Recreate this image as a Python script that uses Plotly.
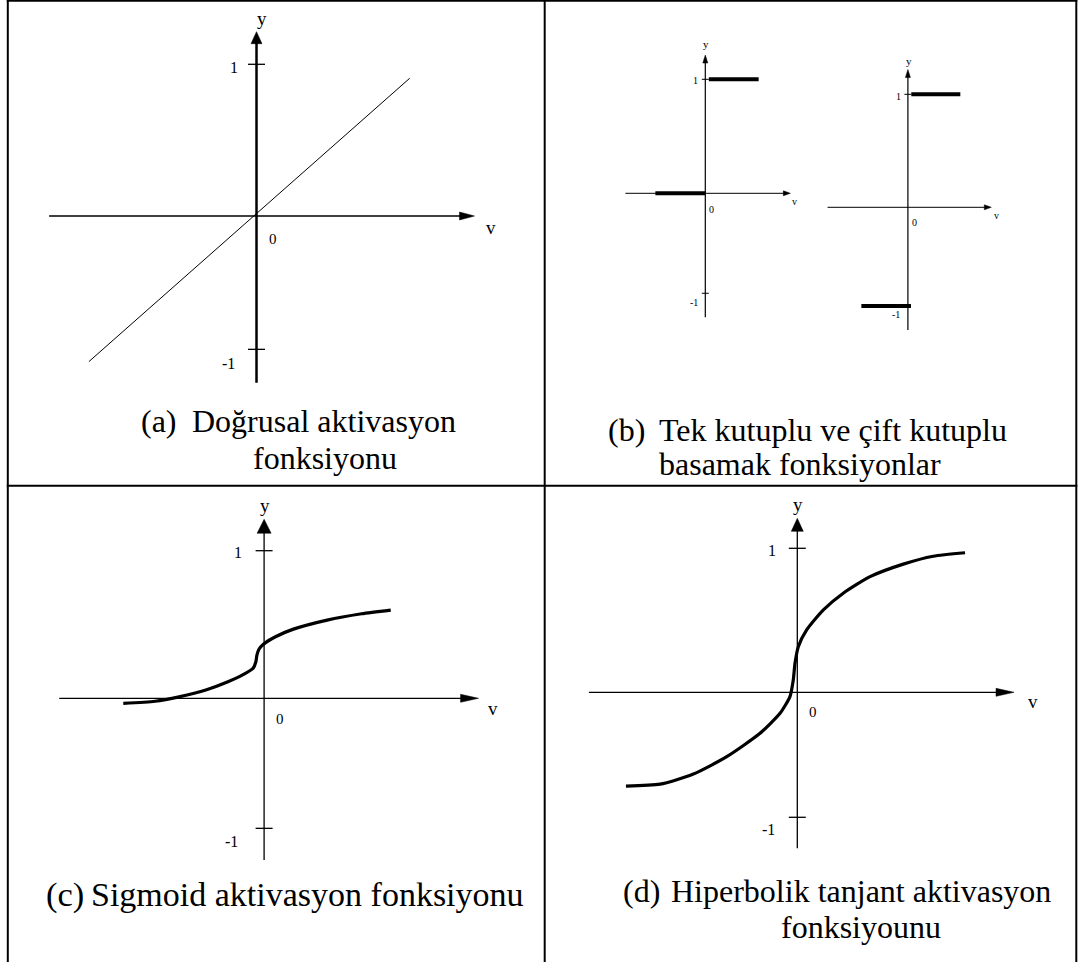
import plotly.graph_objects as go

W, H = 1078, 962

# ---------------- data (each panel in its own units) ----------------
# (a) linear activation
LINEAR_V = [-1.105, 1.01]
LINEAR_Y = [-0.96, 0.908]

# (b) unipolar / bipolar step functions
UNIPOLAR_LOW_V = [-0.438, 0.0]
UNIPOLAR_LOW_Y = [0.0, 0.0]
UNIPOLAR_HIGH_V = [0.031, 0.468]
UNIPOLAR_HIGH_Y = [1.0, 1.0]
BIPOLAR_LOW_V = [-0.412, 0.027]
BIPOLAR_LOW_Y = [-0.873, -0.873]
BIPOLAR_HIGH_V = [0.03, 0.464]
BIPOLAR_HIGH_Y = [1.0, 1.0]

# (c) sigmoid
SIGMOID_V = [-0.954, -0.739, -0.576, -0.390, -0.249, -0.133, -0.0745, -0.0556, -0.0488,
             -0.0346, -0.0047, 0.0772, 0.194, 0.427, 0.661, 0.858]
SIGMOID_Y = [-0.034, -0.020, 0.010, 0.058, 0.110, 0.165, 0.203, 0.248, 0.293,
             0.332, 0.366, 0.417, 0.467, 0.530, 0.573, 0.598]

# (d) hyperbolic tangent
TANH_V = [-1.19, -0.953, -0.722, -0.49, -0.259, -0.12, -0.051, -0.028, -0.016,
          0.007, 0.065, 0.181, 0.319, 0.505, 0.736, 0.944, 1.165]
TANH_Y = [-0.651, -0.638, -0.568, -0.447, -0.285, -0.146, -0.03, 0.085, 0.201,
          0.317, 0.433, 0.572, 0.688, 0.803, 0.890, 0.945, 0.969]

# axis extents [min, max] and tick values of every panel
A_V_EXT, A_Y_EXT, A_TICKS = [-1.367, 1.437], [-1.099, 1.215], [1.0, -0.879]
B1_V_EXT, B1_Y_EXT, B1_TICKS = [-0.701, 0.746], [-1.088, 1.213], [1.0, -0.877]
B2_V_EXT, B2_Y_EXT, B2_TICKS = [-0.711, 0.738], [-1.086, 1.219], [1.0]
B2_LABEL_VALUES = [1.0, -0.873]
C_V_EXT, C_Y_EXT, C_TICKS = [-1.388, 1.453], [-1.096, 1.213], [1.0, -0.881]
D_V_EXT, D_Y_EXT, D_TICKS = [-1.447, 1.505], [-1.083, 1.208], [1.0, -0.868]
TICK_LABELS = ["1", "-1"]

CAPTIONS = {
    "a": ["(a)", "Doğrusal aktivasyon", "fonksiyonu"],
    "b": ["(b)", "Tek kutuplu ve çift kutuplu", "basamak fonksiyonlar"],
    "c": ["(c)", "Sigmoid aktivasyon fonksiyonu", ""],
    "d": ["(d)", "Hiperbolik tanjant aktivasyon", "fonksiyounu"],
}

# ---------------- figure ----------------
FONT = "Liberation Serif, Times New Roman, serif"
fig = go.Figure()
shapes, annotations = [], []


def refs(i):
    return ("x" if i == 1 else f"x{i}", "y" if i == 1 else f"y{i}")


def setup_axes(i, ox, oy, u):
    xr, yr = refs(i)
    xk = "xaxis" if i == 1 else f"xaxis{i}"
    yk = "yaxis" if i == 1 else f"yaxis{i}"
    fig.update_layout({
        xk: dict(domain=[0, 1], range=[-ox / u, (W - ox) / u], visible=False,
                 anchor=yr, fixedrange=True),
        yk: dict(domain=[0, 1], range=[(oy - H) / u, oy / u], visible=False,
                 anchor=xr, fixedrange=True),
    })


def draw_axes(i, u, vext, yext, xw, yw, xarrow, yarrow, ticks, tick_half, tw):
    xr, yr = refs(i)
    lx, hx = xarrow
    ly, wy = yarrow
    shapes.append(dict(type="line", xref=xr, yref=yr, x0=vext[0], y0=0,
                       x1=vext[1] - 0.7 * lx / u, y1=0, line=dict(color="black", width=xw)))
    shapes.append(dict(type="line", xref=xr, yref=yr, x0=0, y0=yext[0],
                       x1=0, y1=yext[1] - 0.7 * ly / u, line=dict(color="black", width=yw)))
    bx = vext[1] - lx / u
    shapes.append(dict(type="path", xref=xr, yref=yr,
                       path=f"M{vext[1]},0 L{bx},{hx / u} L{bx},{-hx / u} Z",
                       fillcolor="black", line=dict(color="black", width=0.5)))
    by = yext[1] - ly / u
    shapes.append(dict(type="path", xref=xr, yref=yr,
                       path=f"M0,{yext[1]} L{wy / u},{by} L{-wy / u},{by} Z",
                       fillcolor="black", line=dict(color="black", width=0.5)))
    for t in ticks:
        shapes.append(dict(type="line", xref=xr, yref=yr, x0=-tick_half / u, y0=t,
                           x1=tick_half / u, y1=t, line=dict(color="black", width=tw)))


def label(i, text, x, y, dx, dy, size):
    xr, yr = refs(i)
    annotations.append(dict(text=text, x=x, y=y, xref=xr, yref=yr, xshift=dx, yshift=-dy,
                            showarrow=False, xanchor="center", yanchor="middle",
                            font=dict(family=FONT, size=size, color="black")))


def line_trace(i, xs, ys, width, shape="linear"):
    xr, yr = refs(i)
    fig.add_trace(go.Scatter(x=xs, y=ys, xaxis=xr, yaxis=yr, mode="lines",
                             line=dict(color="black", width=width, shape=shape, smoothing=0.6),
                             hoverinfo="skip", showlegend=False))


def caption(px, py, text, size=32):
    annotations.append(dict(text=text, x=px / W, y=1 - py / H, xref="paper", yref="paper",
                            showarrow=False, xanchor="left", yanchor="middle",
                            font=dict(family=FONT, size=size, color="black")))


# panel (a)
setup_axes(1, 256.5, 216.0, 151.7)
draw_axes(1, 151.7, A_V_EXT, A_Y_EXT, 1.5, 2.5, (15, 4), (12, 5.5), A_TICKS, 8.5, 1.3)
line_trace(1, LINEAR_V, LINEAR_Y, 1.0)
label(1, "y", 0, A_Y_EXT[1], 5, -13, 19)
label(1, TICK_LABELS[0], 0, A_TICKS[0], -23, 3, 16)
label(1, TICK_LABELS[1], 0, A_TICKS[1], -28, 14, 16)
label(1, "0", 0, 0, 16.5, 23, 15)
label(1, "v", A_V_EXT[1], 0, 17, 11, 19)

# panel (b) left: unipolar
setup_axes(2, 705.3, 193.3, 114.0)
draw_axes(2, 114.0, B1_V_EXT, B1_Y_EXT, 1.0, 1.2, (7, 2.5), (8, 2.5), B1_TICKS, 3.5, 1.0)
line_trace(2, UNIPOLAR_LOW_V, UNIPOLAR_LOW_Y, 4.0)
line_trace(2, UNIPOLAR_HIGH_V, UNIPOLAR_HIGH_Y, 4.0)
label(2, "y", 0, B1_Y_EXT[1], 1, -11, 11)
label(2, TICK_LABELS[0], 0, B1_TICKS[0], -9.5, 1.5, 10)
label(2, TICK_LABELS[1], 0, B1_TICKS[1], -11, 9, 10)
label(2, "0", 0, 0, 6, 16.5, 10)
label(2, "v", B1_V_EXT[1], 0, 4.5, 8, 10)

# panel (b) right: bipolar
setup_axes(3, 907.9, 207.3, 113.0)
draw_axes(3, 113.0, B2_V_EXT, B2_Y_EXT, 1.0, 1.2, (7, 2.5), (8, 2.5), B2_TICKS, 3.5, 1.0)
line_trace(3, BIPOLAR_LOW_V, BIPOLAR_LOW_Y, 4.0)
line_trace(3, BIPOLAR_HIGH_V, BIPOLAR_HIGH_Y, 4.0)
label(3, "y", 0, B2_Y_EXT[1], 1.5, -9, 11)
label(3, TICK_LABELS[0], 0, B2_LABEL_VALUES[0], -9, 2.5, 10)
label(3, TICK_LABELS[1], 0, B2_LABEL_VALUES[1], -11.5, 9, 10)
label(3, "0", 0, 0, 6.5, 15.5, 10)
label(3, "v", B2_V_EXT[1], 0, 5.5, 8, 10)

# panel (c)
setup_axes(4, 264.1, 698.3, 147.6)
draw_axes(4, 147.6, C_V_EXT, C_Y_EXT, 1.3, 1.3, (18, 4), (14, 7), C_TICKS, 8.5, 1.3)
line_trace(4, SIGMOID_V, SIGMOID_Y, 3.2, "spline")
label(4, "y", 0, C_Y_EXT[1], 0.5, -14, 19)
label(4, TICK_LABELS[0], 0, C_TICKS[0], -26.5, 2, 16)
label(4, TICK_LABELS[1], 0, C_TICKS[1], -32.5, 13.5, 16)
label(4, "0", 0, 0, 16, 20.5, 15)
label(4, "v", C_V_EXT[1], 0, 14.5, 10.5, 19)

# panel (d)
setup_axes(5, 797.3, 692.3, 144.0)
draw_axes(5, 144.0, D_V_EXT, D_Y_EXT, 1.3, 1.3, (18, 4), (13, 6), D_TICKS, 8.5, 1.3)
line_trace(5, TANH_V, TANH_Y, 3.2, "spline")
label(5, "y", 0, D_Y_EXT[1], 0.7, -14, 19)
label(5, TICK_LABELS[0], 0, D_TICKS[0], -25.3, 1.7, 16)
label(5, TICK_LABELS[1], 0, D_TICKS[1], -29.3, 12, 16)
label(5, "0", 0, 0, 15.4, 19.4, 15)
label(5, "v", D_V_EXT[1], 0, 18.6, 9.4, 19)

# captions
caption(139, 421.0, CAPTIONS["a"][0])
caption(190, 421.0, CAPTIONS["a"][1])
caption(251, 458.3, CAPTIONS["a"][2])
caption(606, 430.0, CAPTIONS["b"][0])
caption(657, 430.0, CAPTIONS["b"][1])
caption(657, 464.0, CAPTIONS["b"][2])
caption(44, 894.0, CAPTIONS["c"][0], 34.5)
caption(89, 894.0, CAPTIONS["c"][1], 34)
caption(621, 890.7, CAPTIONS["d"][0])
caption(669, 890.7, CAPTIONS["d"][1])
caption(779.4, 926.7, CAPTIONS["d"][2])

# table grid lines (pixel positions converted to paper coordinates)
def vline(px, y0=0, y1=H, w=2):
    shapes.append(dict(type="line", xref="paper", yref="paper", x0=px / W, x1=px / W,
                       y0=1 - y0 / H, y1=1 - y1 / H, line=dict(color="black", width=w)))


def hline(py, x0, x1, w=2):
    shapes.append(dict(type="line", xref="paper", yref="paper", x0=x0 / W, x1=x1 / W,
                       y0=1 - py / H, y1=1 - py / H, line=dict(color="black", width=w)))


vline(7.8)
vline(544.7)
vline(1076.3)
hline(0.8, 6.8, 1077.3)
hline(485.8, 6.8, 1077.3)

fig.update_layout(width=W, height=H, margin=dict(l=0, r=0, t=0, b=0),
                  paper_bgcolor="white", plot_bgcolor="rgba(0,0,0,0)",
                  shapes=shapes, annotations=annotations, showlegend=False)

fig.write_html("out.html", config={"displayModeBar": False},
               post_script="document.body.style.margin='0';document.body.style.overflow='hidden';")
